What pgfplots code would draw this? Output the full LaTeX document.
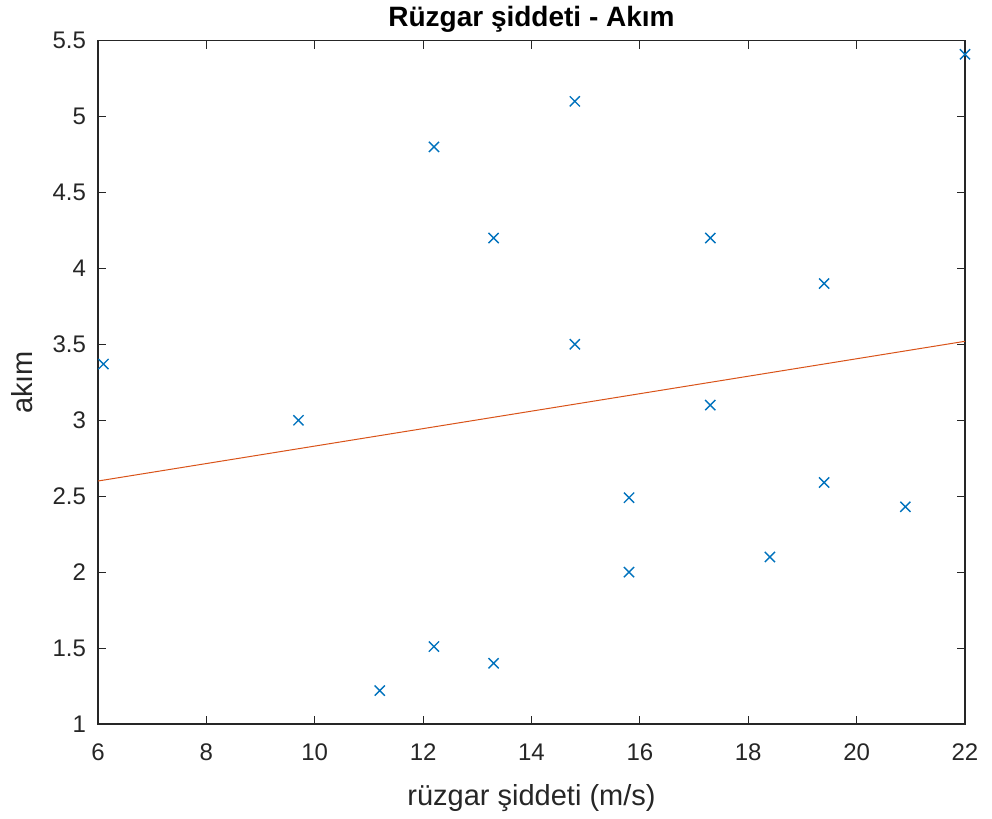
\documentclass[border=0pt]{standalone}
\usepackage{pgfplots}
\pgfplotsset{compat=1.18}
\usepackage{fontspec}
\setmainfont{Liberation Sans}
\definecolor{mblue}{rgb}{0,0.447,0.741}
\definecolor{morange}{rgb}{0.85,0.325,0.098}
\definecolor{mgray}{rgb}{0.15,0.15,0.15}
\begin{document}
\begin{tikzpicture}
\useasboundingbox (-49pt,-47.5pt) rectangle (447pt,362pt);
\begin{axis}[
    scale only axis,
    width=433.5pt, height=341.7pt,
    xmin=6, xmax=22, ymin=1, ymax=5.5,
    xtick={6,8,...,22},
    ytick={1,1.5,...,5.5},
    yticklabels={1,1.5,2,2.5,3,3.5,4,4.5,5,5.5},
    tick align=inside,
    major tick length=4pt,
    axis line style={mgray, line width=0.6pt},
    every tick/.style={mgray, line width=0.5pt},
    ticklabel style={font=\fontsize{12}{13}\selectfont, text=mgray},
    xticklabel style={yshift=-6.5pt},
    yticklabel style={xshift=-2.5pt},
    /pgf/number format/assume math mode=true,
    title={\textbf{Rüzgar şiddeti - Akım}},
    title style={font=\fontsize{14}{16}\selectfont, at={(axis description cs:0.5,1.014)}, anchor=center},
    xlabel={rüzgar şiddeti (m/s)},
    ylabel={akım},
    label style={font=\fontsize{14.5}{16}\selectfont, text=mgray},
    xlabel style={at={(axis description cs:0.5,-0.108)}, anchor=center},
    ylabel style={at={(axis description cs:-0.088,0.5)}, anchor=center},
    clip=false,
]
\addplot[only marks, mark=x, mark size=3.6pt, color=mblue, line width=0.7pt]
coordinates {
(6.1,3.37) (9.7,3.0) (11.2,1.22) (12.2,1.51) (12.2,4.8) (13.3,4.2) (13.3,1.4)
(14.8,5.1) (14.8,3.5) (15.8,2.49) (15.8,2.0) (17.3,4.2) (17.3,3.1) (18.4,2.1)
(19.4,3.9) (19.4,2.59) (20.9,2.43) (22,5.41)
};
\addplot[morange, line width=0.5pt] coordinates {(6,2.60) (22,3.52)};
\end{axis}
\end{tikzpicture}
\end{document}
